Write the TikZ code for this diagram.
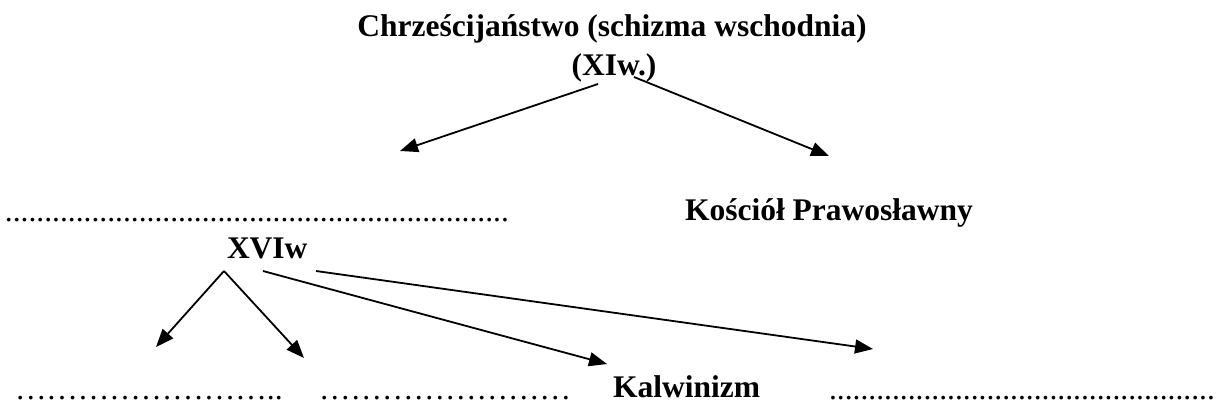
\documentclass[tikz,border=0pt]{standalone}
\usepackage{fontspec}
\setmainfont{Liberation Serif}
\usetikzlibrary{arrows.meta}
\tikzset{
  lbl/.style={anchor=base west, inner sep=0pt, outer sep=0pt, font=\fontsize{31.5}{37}\selectfont\bfseries},
  lblc/.style={anchor=base, inner sep=0pt, outer sep=0pt, font=\fontsize{31.5}{37}\selectfont\bfseries},
  dots/.style={anchor=base west, inner sep=0pt, outer sep=0pt, font=\fontsize{31.5}{37}\selectfont},
  arr/.style={-{Triangle[length=18pt,width=14pt]}, line width=1.8pt},
}
\begin{document}
\begin{tikzpicture}[x=1pt,y=-1pt]
\useasboundingbox (0,0) rectangle (1221,408);
\node[lblc] (t1) at (612,36) {Chrześcijaństwo (schizma wschodnia)};
\node[lblc] (t2) at (614,75) {(XIw.)};
\node[dots] (d1) at (5,221) {................................................................};
\node[lbl] (kp) at (685,220) {Kościół Prawosławny};
\node[lbl] (xvi) at (227,258) {XVIw};
\node[dots] (b1) at (15,399) {……………………..};
\node[dots] (b2) at (319,399) {……………………};
\node[lbl] (kal) at (613,397) {Kalwinizm};
\node[dots] (b4) at (829,399) {.................................................};
% arrow coordinates
\coordinate (s1) at (598,84);
\coordinate (e1) at (400,151);
\coordinate (s2) at (634,77);
\coordinate (e2) at (829,156);
\coordinate (s3) at (224,271);
\coordinate (e3) at (156,347);
\coordinate (e4) at (304,358);
\coordinate (s5) at (263,271);
\coordinate (e5) at (607,364);
\coordinate (s6) at (316,271);
\coordinate (e6) at (873,349);
\draw[arr] (s1) -- (e1);
\draw[arr] (s2) -- (e2);
\draw[arr] (s3) -- (e3);
\draw[arr] (s3) -- (e4);
\draw[arr] (s5) -- (e5);
\draw[arr] (s6) -- (e6);
\end{tikzpicture}
\end{document}
